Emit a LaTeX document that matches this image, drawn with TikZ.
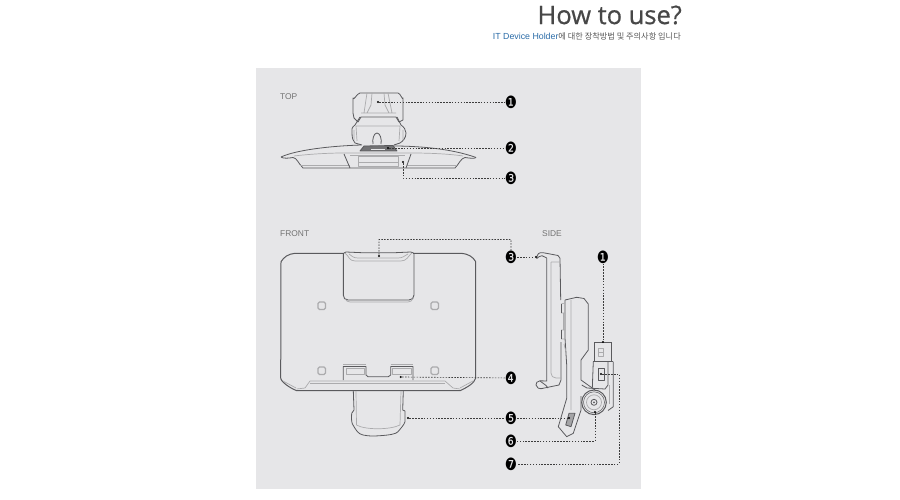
\documentclass[tikz,border=0pt]{standalone}
\usepackage{fontspec}
\setmainfont{Open Sans}
\newfontfamily\kofont{Noto Sans CJK KR}
\newfontfamily\numfont{DejaVu Sans}
\newfontfamily\latfont{Liberation Sans}
\definecolor{panel}{HTML}{E6E6E8}
\definecolor{ink}{HTML}{5A5A5D}
\definecolor{soft}{HTML}{ABABAD}
\definecolor{leadc}{HTML}{3C3C3C}
\definecolor{blueish}{HTML}{2B6CA8}
\tikzset{
  dk/.style={draw=ink,line width=.8pt,line join=round},
  lt/.style={draw=soft,line width=.7pt,line join=round},
  sq/.style={draw=soft,line width=1.1pt,rounded corners=1.5pt},
  lead/.style={draw=leadc,line width=.65pt,dash pattern=on 1.5pt off 1.4pt},
  tip/.style={circle,fill=black,inner sep=0pt,minimum size=2.4pt},
  num/.style={font=\numfont\fontsize{17}{17}\selectfont,text=black,inner sep=0pt,transform shape,xscale=.8},
  view/.style={font=\latfont\fontsize{8.4}{10}\selectfont,text=black!55,anchor=west,inner sep=0pt},
}
\begin{document}
\begin{tikzpicture}[x=1pt,y=-1pt]
\useasboundingbox (0,0) rectangle (900,500);
\fill[white] (0,0) rectangle (900,500);
\fill[panel] (256,68) rectangle (641,489);

% title
\node[anchor=east,inner sep=0pt,text=black!72,font=\fontsize{25.5}{28}\selectfont\addfontfeature{FakeBold=0.6}] (title) at (682,15) {How to use?};
\node[anchor=east,inner sep=0pt,font=\kofont\fontsize{8.2}{10}\selectfont,text=black!65] (sub) at (681,36) {\textcolor{blueish}{\latfont\fontsize{8.8}{10}\selectfont IT Device Holder}에 대한 장착방법 및 주의사항 입니다};

\node[view] (ltop) at (280,96.5) {TOP};
\node[view] (lfront) at (280,233.5) {FRONT};
\node[view] (lside) at (542,233.5) {SIDE};

% ---------- TOP view
% head
\draw[dk] (353,113) -- (353,98) to[out=-80,in=190] (360,93) -- (398,93) to[out=-10,in=-100] (403,98) -- (403,120) -- (399,122) -- (396,117) -- (361,117) -- (358,122) -- (354,118) -- cycle;
\draw[lt] (367,93) -- (364,113) (388,93) -- (392,113) (361,113) -- (396,113) (372,93) -- (371,105) -- (367,113) (384,93) -- (385,105) -- (389,113);
% body
\draw[dk] (360,117) -- (355,125) .. controls (352,127) and (351,130) .. (352,133) .. controls (352,138) and (353,141) .. (355,143) -- (362,145);
\draw[dk] (397,117) -- (401,125) .. controls (404,127) and (406,130) .. (406,133) .. controls (406,138) and (403,141) .. (400,143) -- (394,145);
\draw[lt] (356,126) -- (400,126) (356,126) -- (357,141) (400,126) -- (399,141) (354,130) -- (354,140) (403,130) -- (403,140);
\draw[dk] (373,144) .. controls (372,139) and (374,133) .. (377,133) .. controls (380,133) and (382,139) .. (381,144);
% plate
\draw[dk] (281,157) .. controls (296,150) and (330,146) .. (361,145);
\draw[dk] (393,146) .. controls (415,146) and (450,148) .. (476,157.5);
\draw[dk] (281,157) .. controls (283,159) and (290,158) .. (293,157.5) .. controls (297,158) and (298,163) .. (303,168) -- (455,168) .. controls (459,164) and (461,158) .. (465,157.5) .. controls (469,158) and (474,159) .. (476,157.5);
\draw[lt] (294,156) .. controls (310,154) and (330,153) .. (343,153) -- (412,153) .. controls (430,153) and (450,154) .. (463,156);
\draw[lt] (300,165) -- (350,165) (407,165) -- (457,165);
\draw[dk] (344,154) -- (350,168) (411,154) -- (406,168);
\draw[lt] (350,155) -- (405,155);
\draw[lt] (358,156) rectangle (398,166);
\draw[lt] (358,162) -- (398,162);
% badge
\draw[dk,fill=ink!85] (360,151) -- (364,146) -- (393,145.5) -- (397,151) -- cycle;
\draw[panel,line width=.8pt] (371,149) -- (385,149);

\coordinate (dt1) at (378,102);
\coordinate (dt2) at (388,148);
\coordinate (dt3) at (403,162);

% ---------- FRONT view
\draw[dk,line width=1pt] (344,253.3) -- (295,253.3) .. controls (288,254) and (284,257) .. (281,261.7) -- (280.7,378) .. controls (281,382) and (290,388) .. (296.7,390.7) -- (460,390.7) .. controls (466,388) and (475,383) .. (475.7,378) -- (475.7,261.7) .. controls (473,257) and (469,254) .. (461,253.3) -- (413,253.3);
% clip pocket
\draw[dk] (344,253) -- (346,252) -- (362,252.7) -- (395,252.7) -- (410.7,252) -- (413.5,253);
\draw[dk,line width=.9pt] (343.3,253) -- (343.3,295) .. controls (343.3,298) and (345,300) .. (348,300) -- (409,300) .. controls (412,300) and (414,298) .. (414,295) -- (414,253);
\draw[lt] (345,298.5) .. controls (346,301) and (348,302) .. (350,302) -- (408,302) .. controls (410,302) and (412,301) .. (413,298.5);
\draw[lt] (345,253) .. controls (349,256) and (349,261) .. (355,261) -- (401,261) .. controls (407,261) and (408,256) .. (412,253);
\draw[lt] (349,254) .. controls (352,256) and (353,258) .. (358,258) -- (398,258) .. controls (403,258) and (404,256) .. (408,254);
% squares
\draw[sq] (318,302) rectangle (325.5,309.5);
\draw[sq] (431,302) rectangle (438.5,309.5);
\draw[sq] (318,367) rectangle (325.5,374.5);
\draw[sq] (431,367) rectangle (438.5,374.5);
% lower mount
\draw[dk] (343.3,380) -- (343.3,366.5) -- (366,366.5) -- (366,375) -- (368,376.7) -- (388.3,376.7) -- (390.7,375) -- (390.7,366.5) -- (413,366.5) -- (413,380);
\draw[lt] (343.3,364.5) -- (366,364.5) (390.7,364.5) -- (413,364.5);
\draw[lt] (346,368.5) rectangle (364,374);
\draw[lt] (392.7,368.5) rectangle (411.3,374);
% lower band
\draw[lt] (296.7,389) -- (305,388) -- (310,381) -- (445,381) -- (453,388) -- (460,389);
\draw[lt] (283,381) -- (296,388) (473,381) -- (460,388);
\draw[lt] (310,383) -- (445,383);
% foot
\draw[dk] (353.3,390.7) -- (354,410) -- (351.7,413.3) .. controls (351,420) and (352,424) .. (353,425) .. controls (356,430) and (358,434) .. (363,435) .. controls (370,436.5) and (375,436) .. (380,435.7) .. controls (390,435) and (396,434) .. (398,431.7) .. controls (401,428) and (404,425) .. (405,421.7) -- (405,411) -- (402.7,410) -- (403.3,390.7);
\draw[lt] (356,391) -- (356.5,425) .. controls (365,430) and (390,430) .. (400,425) -- (401,391);

% ---------- SIDE view
% holder clip
\draw[dk] (536.7,258.5) .. controls (537,254) and (539,252) .. (543,252.7) -- (548,253.6) -- (558,255.5) -- (560,258.3) -- (560.7,300);
\draw[dk] (536.7,258.5) .. controls (538,257) and (540,256) .. (542,255.7) -- (546.7,258);
\draw[dk] (546.7,258) -- (546.7,381) -- (540,380.8) .. controls (537,381) and (536,383) .. (536,385) .. controls (537,388) and (539,389) .. (541,388.7) -- (559,385) -- (561,380) -- (561,342);
\draw[lt] (551,262) -- (560,262) (551,262) -- (551,373) .. controls (551,376) and (553,378) .. (556,378) -- (561,378);
\draw[dk] (540,381) -- (546,385.5) -- (548,388);
% plate body
\draw[dk] (565,300) -- (576.7,297.3) -- (584,298.5) -- (588.3,304) -- (588.3,350) -- (581,360) -- (581,380) -- (595,390);
\draw[dk] (565,300) -- (565,338) -- (566.7,365) -- (566.7,398.3) -- (558.3,426.7) -- (566.7,436.7) -- (573.3,433.3) -- (581,410) -- (581,396);
\draw[lt] (561,304) -- (565,303) (561,313) -- (565,313) (561,330) -- (565,330) (561,339) -- (565,339);
\draw[dk] (561,304) -- (561,313) (561,330) -- (561,339);
\draw[lt] (563,313) -- (563,330);
\draw[lt] (571,300) -- (571,410) (564,344) -- (566,352);
% tab window
\draw[dk,fill=ink!55] (569,413.3) -- (575,413.3) -- (571,426.7) -- (565.7,425) -- cycle;
% mount
\draw[dk] (594.3,342.3) rectangle (611.7,361.7);
\draw[dk,line width=1pt] (594.3,342.3) -- (611.7,342.3);
\draw[lt] (598.3,348.3) rectangle (603.7,356.7);
\draw[lt] (598.3,352) -- (603.7,352);
\draw[dk] (593.3,361.7) -- (592.3,388) (613.3,361.7) -- (613.3,406.7) -- (608,410.5);
\draw[dk] (593.3,361.7) -- (613.3,361.7);
\draw[dk] (598.3,368.3) rectangle (604.3,380);
\draw[dk] (581.7,385) -- (587,388) -- (605,389) -- (608,385) -- (608,362);
\draw[lt] (609,385) -- (609,404);
% wheel
\draw[dk,line width=1pt] (594,402.3) circle (12.3);
\draw[draw=ink,line width=.5pt] (594,402.3) circle (10.5);
\draw[lt] (594,402.3) circle (7.5);
\draw[dk] (594,402.3) circle (3);
\fill[ink] (594,402.3) circle (1);

\coordinate (df3) at (379,256);
\coordinate (df4) at (400.7,377);
\coordinate (df5) at (408,418);

% ---------- number nodes
\node[num] (n1) at (511,102) {❶};
\node[num] (n2) at (511,148) {❷};
\node[num] (n3) at (511,178) {❸};
\node[num] (m3) at (511,257) {❸};
\node[num] (m4) at (511,378) {❹};
\node[num] (m5) at (511,418) {❺};
\node[num] (m6) at (511,441) {❻};
\node[num] (m7) at (511,464) {❼};
\node[num] (m1) at (603,257) {❶};

% ---------- tips
\node[tip] (a1) at (dt1) {};
\node[tip] (a2) at (dt2) {};
\node[tip] (a3) at (dt3) {};
\node[tip] (b3) at (df3) {};
\node[tip] (b4) at (df4) {};
\node[tip] (b5) at (df5) {};
\node[tip] (c3) at (536,257) {};
\node[tip] (c1) at (603,342) {};
\node[tip] (c5) at (569,418) {};
\node[tip] (c6) at (595,412) {};
\node[tip] (c7) at (601,374) {};
\coordinate (k3) at (511,239.5);
\coordinate (k7) at (619,374);

% ---------- connectors
\draw[lead] (a1) -- (n1);
\draw[lead] (a2) -- (n2);
\draw[lead] (a3) |- (n3);
\draw[lead] (b3) |- (k3) -- (m3);
\draw[lead] (m3) -- (c3);
\draw[lead] (b4) -- (m4);
\draw[lead] (b5) -- (m5);
\draw[lead] (m5) -- (c5);
\draw[lead] (c6) |- (m6);
\draw[lead] (c7) -- (k7) |- (m7);
\draw[lead] (m1) -- (c1);
\end{tikzpicture}
\end{document}
